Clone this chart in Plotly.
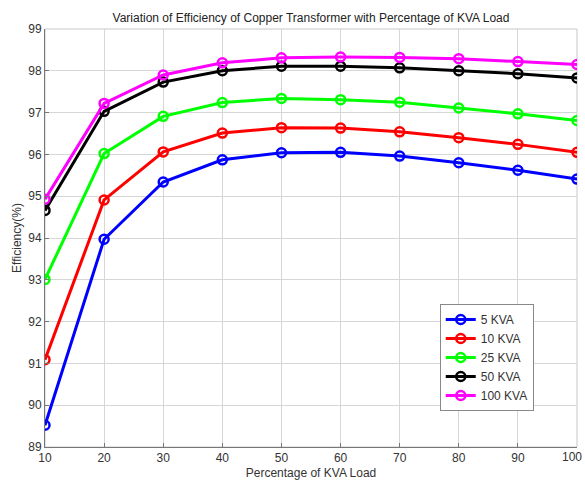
import plotly.graph_objects as go

load_pct = [10, 20, 30, 40, 50, 60, 70, 80, 90, 100]

eff_5kva = [89.52, 93.97, 95.34, 95.87, 96.04, 96.05, 95.96, 95.80, 95.62, 95.41]
eff_10kva = [91.09, 94.91, 96.06, 96.51, 96.64, 96.63, 96.54, 96.40, 96.24, 96.05]
eff_25kva = [93.01, 96.02, 96.91, 97.24, 97.34, 97.31, 97.25, 97.11, 96.97, 96.81]
eff_50kva = [94.66, 97.03, 97.73, 98.00, 98.11, 98.11, 98.07, 98.00, 97.93, 97.83]
eff_100kva = [94.93, 97.22, 97.90, 98.19, 98.31, 98.33, 98.32, 98.29, 98.22, 98.15]

series_names = ["5 KVA", "10 KVA", "25 KVA", "50 KVA", "100 KVA"]
series_vals = [eff_5kva, eff_10kva, eff_25kva, eff_50kva, eff_100kva]
series_colors = ["#0000ff", "#ff0000", "#00ff00", "#000000", "#ff00ff"]

x_ticks = [10, 20, 30, 40, 50, 60, 70, 80, 90, 100]
y_ticks = [89, 90, 91, 92, 93, 94, 95, 96, 97, 98, 99]

fig = go.Figure()
for name, vals, col in zip(series_names, series_vals, series_colors):
    fig.add_trace(go.Scatter(
        x=load_pct, y=vals, name=name, mode="lines+markers",
        line=dict(color=col, width=3),
        marker=dict(symbol="circle-open", size=9, color=col, line=dict(width=2.5, color=col)),
    ))

# last x tick label drawn as annotation, nudged so it stays inside the page
x_ticktext = [str(v) for v in x_ticks[:-1]] + [""]

font_family = "Liberation Sans, Arial, sans-serif"
fig.update_layout(
    width=585, height=480,
    margin=dict(l=45, r=8, t=29, b=33),
    paper_bgcolor="white", plot_bgcolor="white",
    font=dict(family=font_family, size=12, color="#333333"),
    title=dict(text="Variation of Efficiency of Copper Transformer with Percentage of KVA Load",
               x=0.5, xanchor="center", xref="paper", y=0.963, yanchor="middle",
               font=dict(size=12, color="#222222")),
    showlegend=True,
    legend=dict(x=0.742, y=0.342, xanchor="left", yanchor="top",
                bgcolor="white", bordercolor="#888888", borderwidth=1,
                font=dict(size=12, color="#333333"), tracegroupgap=0,
                itemwidth=30),
    shapes=[dict(type="rect", xref="paper", yref="paper", x0=0, y0=0, x1=1, y1=1,
                 line=dict(color="#c8c8c8", width=1), layer="below")],
    annotations=[dict(x=x_ticks[-1], xref="x", y=0, yref="paper", text=str(x_ticks[-1]),
                      showarrow=False, xanchor="right", yanchor="top", xshift=7, yshift=-1,
                      font=dict(size=12, color="#333333", family=font_family))],
)
fig.update_xaxes(
    range=[10, 100], tickvals=x_ticks, ticktext=x_ticktext,
    showgrid=True, gridcolor="#d6d6d6", gridwidth=1,
    showline=True, linecolor="#777777", linewidth=1,
    ticks="inside", ticklen=4, tickcolor="#777777",
    zeroline=False, tickfont=dict(size=12, color="#333333"),
    ticklabeloverflow="allow", automargin=False,
    title=dict(text="Percentage of KVA Load", font=dict(size=12, color="#333333"), standoff=6),
)
fig.update_yaxes(
    range=[89, 99], tickvals=y_ticks, ticktext=[str(v) for v in y_ticks],
    showgrid=True, gridcolor="#d6d6d6", gridwidth=1,
    showline=True, linecolor="#777777", linewidth=1,
    ticks="inside", ticklen=4, tickcolor="#777777",
    zeroline=False, tickfont=dict(size=12, color="#333333"),
    ticklabeloverflow="allow", automargin=False,
    title=dict(text="Efficiency(%)", font=dict(size=12, color="#333333"), standoff=4),
)

fig.write_html("out.html")
